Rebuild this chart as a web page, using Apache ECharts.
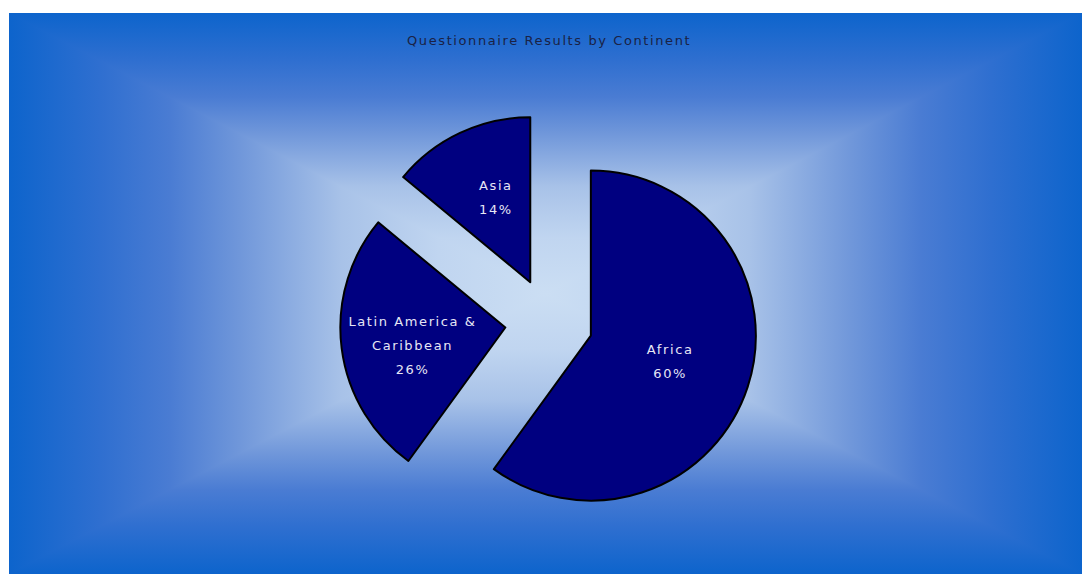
<!DOCTYPE html>
<html>
<head>
    <meta charset="utf-8">
    <script src="https://cdn.jsdelivr.net/npm/echarts@6/dist/echarts.min.js"></script>
    <style>
        html, body { margin: 0; padding: 0; background: #fff; }
        #main { width: 1082px; height: 574px; }
        #main svg text { letter-spacing: 1.6px; }
    </style>
</head>
<body>
<div id="main"></div>
<script>
    // data
    var continents = ['Africa', 'Latin America & Caribbean', 'Asia'];
    var shares = [60, 26, 14];

    var chartTitle = 'Questionnaire Results by Continent';

    var x0 = 9, y0 = 13, x1 = 1082, y1 = 574;
    var cx = (x0 + x1) / 2, cy = (y0 + y1) / 2;

    // edge -> centre colours of the rectangular background gradient
    var stops = [
        { offset: 0, color: '#0d64cc' },
        { offset: 0.17, color: '#2f6fd0' },
        { offset: 0.30, color: '#4a7cd3' },
        { offset: 0.43, color: '#7097da' },
        { offset: 0.62, color: '#a8c2e8' },
        { offset: 0.80, color: '#c0d5f0' },
        { offset: 1, color: '#cbdef3' }
    ];

    // same stops mirrored, for a full-height band (edge -> centre -> edge)
    var bandStops = [];
    stops.forEach(function (s) { bandStops.push({ offset: s.offset / 2, color: s.color }); });
    stops.slice().reverse().forEach(function (s) { bandStops.push({ offset: 1 - s.offset / 2, color: s.color }); });

    function grad(x, y, x2, y2, cs) {
        return { type: 'linear', x: x, y: y, x2: x2, y2: y2, colorStops: cs || stops };
    }

    var pieData = [];
    for (var i = 0; i < continents.length; i++) {
        pieData.push({ name: continents[i], value: shares[i], selected: true });
    }

    // small nudges so the inside labels sit where the reference has them
    var labelNudge = [[-2, -1], [-8, 7], [2, -7]];

    var myChart = echarts.init(document.getElementById('main'), null, { renderer: 'svg' });

    var option = {
        animation: false,
        backgroundColor: '#ffffff',
        graphic: [
            { type: 'rect', z: -11, shape: { x: x0, y: y0, width: x1 - x0, height: y1 - y0 }, style: { fill: grad(0, 0, 0, 1, bandStops) } },
            { type: 'polygon', z: -10, shape: { points: [[x0, y0], [x0, y1], [cx, cy]] }, style: { fill: grad(0, 0, 1, 0) } },
            { type: 'polygon', z: -10, shape: { points: [[x1, y0], [x1, y1], [cx, cy]] }, style: { fill: grad(1, 0, 0, 0) } }
        ],
        title: {
            text: chartTitle,
            left: 402,
            top: 29,
            textStyle: {
                fontFamily: 'DejaVu Sans',
                fontSize: 13,
                fontWeight: 'normal',
                color: '#1a2245'
            }
        },
        series: [{
            type: 'pie',
            center: [549, 322],
            radius: 165,
            startAngle: 90,
            clockwise: true,
            selectedMode: 'multiple',
            selectedOffset: 44,
            emphasis: { disabled: true },
            itemStyle: {
                color: '#000080',
                borderColor: '#000000',
                borderWidth: 2
            },
            label: {
                position: 'inside',
                fontFamily: 'DejaVu Sans',
                fontSize: 13,
                lineHeight: 24,
                color: '#e6e6f5',
                formatter: function (p) {
                    return p.name.replace('& ', '&\n') + '\n' + p.percent + '%';
                }
            },
            labelLayout: function (p) {
                var n = labelNudge[p.dataIndex];
                return { dx: n[0], dy: n[1] };
            },
            labelLine: { show: false },
            data: pieData
        }]
    };
    myChart.setOption(option);
</script>
</body>
</html>
